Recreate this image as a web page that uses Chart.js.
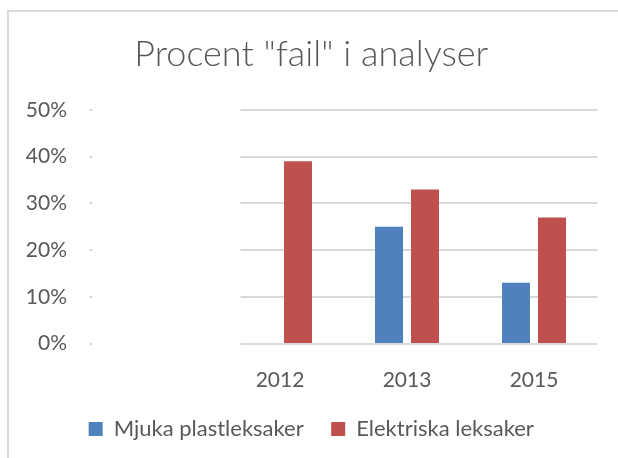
<!DOCTYPE html>
<html>
<head>
<meta charset="utf-8">
<script src="https://cdn.jsdelivr.net/npm/chart.js@4"></script>
<style>
    body { margin: 0; background: #fff; }
    #frame {
        position: absolute; left: 7px; top: 10px; width: 700px; height: 600px;
        border-left: 2px solid #d9d9d9; border-top: 2px solid #d9d9d9;
    }
    #chart { position: absolute; left: 0; top: 0; }
</style>
</head>
<body>
<div id="frame"></div>
<canvas id="chart" width="618" height="458"></canvas>
<script>
    const years = ['2012', '2013', '2015'];
    const mjukaPlast = [null, 0.25, 0.13];
    const elektriska = [0.39, 0.33, 0.27];
    const yTicks = [0, 0.1, 0.2, 0.3, 0.4, 0.5];

    const textColor = '#595959';
    const fontName = 'Lato';

    // gridlines start a bit right of the plot edge, like the original
    const gridPlugin = {
        id: 'shortGrid',
        beforeDatasetsDraw(chart) {
            const ctx = chart.ctx;
            const y = chart.scales.y;
            const area = chart.chartArea;
            ctx.save();
            ctx.strokeStyle = '#d9d9d9';
            ctx.lineWidth = 2;
            yTicks.forEach(v => {
                const py = Math.round(y.getPixelForValue(v));
                ctx.beginPath();
                ctx.moveTo(area.left + 24, py);
                ctx.lineTo(area.right, py);
                ctx.stroke();
                ctx.fillStyle = '#cccccc';
                ctx.fillRect(90, py - 1, 2, 2);
            });
            ctx.restore();
        }
    };

    new Chart(document.getElementById('chart').getContext('2d'), {
        type: 'bar',
        data: {
            labels: years,
            datasets: [{
                label: 'Mjuka plastleksaker',
                data: mjukaPlast,
                backgroundColor: '#4f81bd'
            }, {
                label: 'Elektriska leksaker',
                data: elektriska,
                backgroundColor: '#c0504d'
            }]
        },
        options: {
            responsive: false,
            animation: false,
            categoryPercentage: 0.567,
            barPercentage: 0.778,
            layout: { padding: { left: 25, right: 20.5, top: 0, bottom: 8 } },
            plugins: {
                title: {
                    display: true,
                    text: 'Procent "fail" i analyser',
                    color: textColor,
                    font: { family: fontName, size: 36, weight: '300', lineHeight: 1.2 },
                    padding: { top: 33, bottom: 33.8 }
                },
                legend: {
                    position: 'bottom',
                    labels: {
                        color: textColor,
                        boxWidth: 14,
                        boxHeight: 14,
                        padding: 27.5,
                        font: { family: fontName, size: 22 }
                    }
                },
                tooltip: { enabled: false }
            },
            scales: {
                x: {
                    afterFit(scale) { scale.height = 47; },
                    grid: { display: false },
                    border: { display: false },
                    ticks: {
                        color: textColor,
                        padding: 18,
                        font: { family: fontName, size: 21, lineHeight: 1 }
                    }
                },
                y: {
                    min: 0,
                    max: 0.5,
                    afterFit(scale) { scale.width = 191.5; },
                    grid: {
                        display: true,
                        drawOnChartArea: false,
                        drawTicks: true,
                        tickLength: 147.5,
                        tickColor: 'rgba(0,0,0,0)'
                    },
                    border: { display: false },
                    ticks: {
                        stepSize: 0.1,
                        padding: 2,
                        color: textColor,
                        font: { family: fontName, size: 21 },
                        callback: v => Math.round(v * 100) + '%'
                    }
                }
            }
        },
        plugins: [gridPlugin]
    });
</script>
</body>
</html>
